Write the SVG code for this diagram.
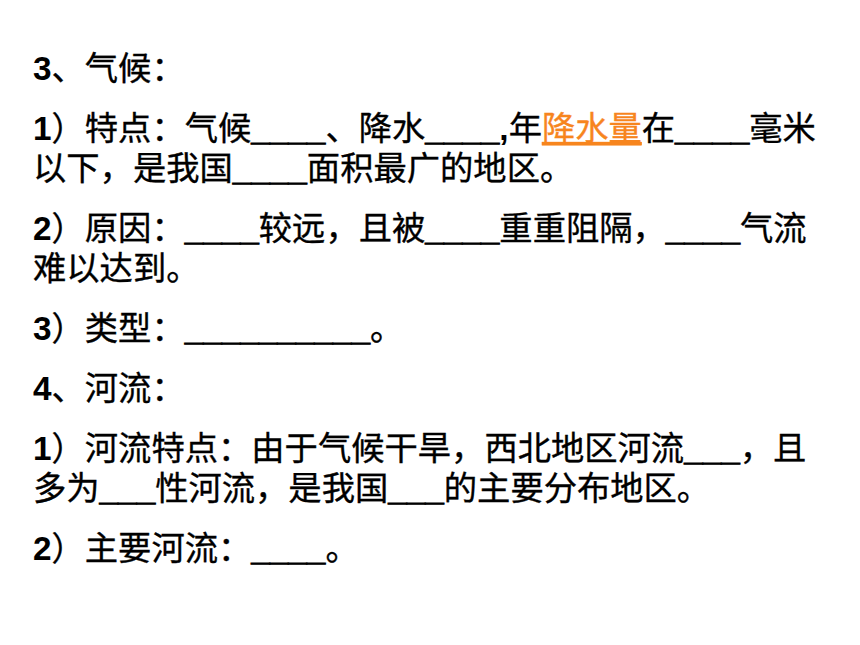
<svg xmlns="http://www.w3.org/2000/svg" width="860" height="645" viewBox="0 0 860 645">
<style>
text{font-family:"Liberation Sans","Noto Sans CJK SC",sans-serif;font-size:33.3px;fill:#000;stroke:#000;stroke-width:0.35px;}
.b{font-weight:bold;stroke-width:0;}
.u{font-weight:bold;stroke-width:0.9px;}
.o{fill:#F7851E;stroke:#F7851E;text-decoration:underline;}
</style>
<rect width="860" height="645" fill="#fff"/>
<g id="slide">
<text x="33" y="80"><tspan class="b">3</tspan>、气候：</text>
<text x="33" y="140"><tspan class="b">1</tspan>）特点：气候<tspan class="u">____</tspan>、降水<tspan class="u">____</tspan><tspan class="b">,</tspan>年<tspan class="o">降水量</tspan>在<tspan class="u">____</tspan>毫米</text>
<text x="33" y="180">以下，是我国<tspan class="u">____</tspan>面积最广的地区。</text>
<text x="33" y="240"><tspan class="b">2</tspan>）原因：<tspan class="u">____</tspan>较远，且被<tspan class="u">____</tspan>重重阻隔，<tspan class="u">____</tspan>气流</text>
<text x="33" y="280">难以达到。</text>
<text x="33" y="340"><tspan class="b">3</tspan>）类型：<tspan class="u">__________</tspan>。</text>
<text x="33" y="400"><tspan class="b">4</tspan>、河流：</text>
<text x="33" y="460"><tspan class="b">1</tspan>）河流特点：由于气候干旱，西北地区河流<tspan class="u">___</tspan>，且</text>
<text x="33" y="500">多为<tspan class="u">___</tspan>性河流，是我国<tspan class="u">___</tspan>的主要分布地区。</text>
<text x="33" y="560"><tspan class="b">2</tspan>）主要河流：<tspan class="u">____</tspan>。</text>
</g>
</svg>
